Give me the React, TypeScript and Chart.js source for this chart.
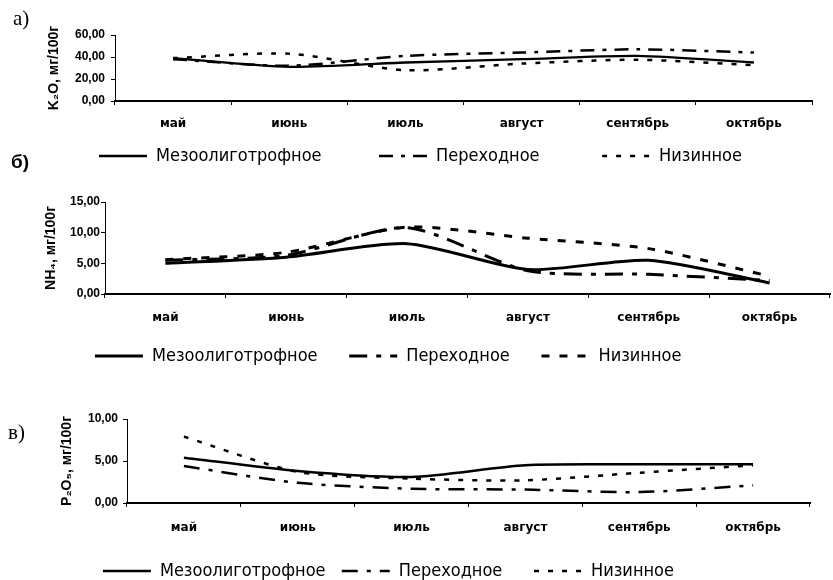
import React, { useEffect, useRef } from 'react';
import { Chart, registerables } from 'chart.js';

Chart.register(...registerables);

// ---------- DATA ----------
const months = ['май', 'июнь', 'июль', 'август', 'сентябрь', 'октябрь'];
const seriesNames = ['Мезоолиготрофное', 'Переходное', 'Низинное'];

const k2oMezo = [39, 31, 35, 38, 41, 35];
const k2oPerekh = [38, 32, 41, 44, 47, 44];
const k2oNiz = [39, 43, 28, 34, 37.5, 32.5];
const k2oTicks = [0, 20, 40, 60];

const nh4Mezo = [5.0, 6.0, 8.2, 4.0, 5.5, 1.8];
const nh4Perekh = [5.5, 6.3, 10.8, 3.8, 3.2, 2.2];
const nh4Niz = [5.6, 6.8, 10.9, 9.1, 7.4, 2.9];
const nh4Ticks = [0, 5, 10, 15];

const p2o5Mezo = [5.4, 3.8, 3.1, 4.5, 4.6, 4.6];
const p2o5Perekh = [4.4, 2.4, 1.7, 1.6, 1.3, 2.1];
const p2o5Niz = [7.9, 3.7, 2.9, 2.7, 3.6, 4.5];
const p2o5Ticks = [0, 5, 10];

// ---------- STYLE ----------
const NARROW = "'Liberation Sans Narrow', 'Arial Narrow', 'DejaVu Sans Condensed', 'Liberation Sans', sans-serif";
const SANS = "'Liberation Sans', Arial, sans-serif";
const WIDE = "'DejaVu Sans', sans-serif";

const fmt = (v: any) => Number(v).toFixed(2).replace('.', ',');

type Panel = {
  top: number;
  h: number;
  pad: { left: number; right: number; top: number; bottom: number };
  yWidth: number;
  xHeight: number;
  xPad: number;
  yPad: number;
  titlePad: number;
  title: string;
  ticks: number[];
  series: number[][];
  widths: number[];
  dashes: number[][];
  spaces: number[];
  legendFont: number;
};

const panels: Panel[] = [
  {
    top: 0, h: 167,
    pad: { left: 21, right: 21, top: 27, bottom: 0 },
    yWidth: 86, xHeight: 40, xPad: 12, yPad: 6, titlePad: 17,
    title: 'K₂O, мг/100г', ticks: k2oTicks,
    series: [k2oMezo, k2oPerekh, k2oNiz],
    widths: [2.3, 2.5, 2.5],
    dashes: [[], [14, 8, 4, 8], [5, 9]],
    spaces: [10, 11, 0], legendFont: 18,
  },
  {
    top: 178, h: 189,
    pad: { left: 0, right: 3, top: 16, bottom: 0 },
    yWidth: 97, xHeight: 47, xPad: 13, yPad: 1, titlePad: 35,
    title: 'NH₄, мг/100г', ticks: nh4Ticks,
    series: [nh4Mezo, nh4Perekh, nh4Niz],
    widths: [3, 3, 3],
    dashes: [[], [18, 9, 5, 9], [8, 10]],
    spaces: [5, 5, 12], legendFont: 18,
  },
  {
    top: 374, h: 208,
    pad: { left: 0, right: 23, top: 37, bottom: 0 },
    yWidth: 119, xHeight: 53, xPad: 14, yPad: 5, titlePad: 51,
    title: 'P₂O₅, мг/100г', ticks: p2o5Ticks,
    series: [p2o5Mezo, p2o5Perekh, p2o5Niz],
    widths: [2.5, 2.5, 2.5],
    dashes: [[], [16, 9, 4, 9], [5, 9]],
    spaces: [2, 5, 8], legendFont: 18,
  },
];

function LineChart({ p }: { p: Panel }) {
  const ref = useRef<HTMLCanvasElement | null>(null);
  useEffect(() => {
    if (!ref.current) return;
    const chart = new Chart(ref.current, {
      type: 'line',
      data: {
        labels: months,
        datasets: p.series.map((vals, i) => ({
          label: seriesNames[i],
          data: vals,
          borderColor: '#000',
          backgroundColor: '#000',
          borderWidth: p.widths[i],
          borderDash: p.dashes[i],
          borderCapStyle: 'butt',
          pointRadius: 0,
          pointHoverRadius: 0,
          tension: 0.25,
          fill: false,
        })),
      },
      options: {
        animation: false,
        responsive: false,
        devicePixelRatio: 1,
        events: [],
        layout: { padding: p.pad },
        plugins: {
          tooltip: { enabled: false },
          legend: {
            position: 'bottom',
            align: 'center',
            labels: {
              usePointStyle: true,
              pointStyleWidth: 48,
              padding: 6,
              color: '#000',
              font: { family: NARROW, size: p.legendFont },
              generateLabels: (c: any) =>
                c.data.datasets.map((ds: any, i: number) => ({
                  text: ds.label + ' '.repeat(p.spaces[i]),
                  fillStyle: 'rgba(0,0,0,0)',
                  strokeStyle: '#000',
                  lineWidth: ds.borderWidth,
                  lineDash: ds.borderDash,
                  lineCap: 'butt',
                  pointStyle: 'line',
                  hidden: false,
                  datasetIndex: i,
                  fontColor: '#000',
                })),
            },
          },
        },
        scales: {
          x: {
            offset: true,
            grid: { display: true, drawOnChartArea: false, drawTicks: true, tickLength: 4, color: '#000', offset: true },
            border: { display: true, color: '#000', width: 2 },
            ticks: { color: '#000', font: { family: WIDE, size: 12, weight: 'bold' }, padding: p.xPad, maxRotation: 0, autoSkip: false },
            afterFit: (s: any) => { s.height = p.xHeight; },
          },
          y: {
            min: p.ticks[0],
            max: p.ticks[p.ticks.length - 1],
            afterBuildTicks: (s: any) => { s.ticks = p.ticks.map((v) => ({ value: v })); },
            grid: { display: true, drawOnChartArea: false, drawTicks: true, tickLength: 4, color: '#000' },
            border: { display: true, color: '#000', width: 1 },
            ticks: { color: '#000', font: { family: SANS, size: 12, weight: 'bold' }, padding: p.yPad, callback: fmt },
            title: { display: true, text: p.title, color: '#000', font: { family: SANS, size: 14, weight: 'bold' }, padding: { top: p.titlePad, bottom: 0 } },
            afterFit: (s: any) => { s.width = p.yWidth; },
          },
        },
      } as any,
    });
    return () => chart.destroy();
  }, [p]);
  return (
    <canvas
      ref={ref}
      width={825}
      height={p.h}
      style={{ position: 'absolute', left: 0, top: p.top, display: 'block' }}
    />
  );
}

export default function App() {
  return (
    <div style={{ position: 'fixed', left: 8, top: 8, width: 825, height: 572, overflow: 'hidden', background: '#fff' }}>
      {panels.map((p, i) => (
        <LineChart key={i} p={p} />
      ))}
      <div style={{ position: 'absolute', left: 5, top: -2, fontFamily: "'Liberation Serif', serif", fontSize: 21, lineHeight: '24px' }}>а)</div>
      <div style={{ position: 'absolute', left: 3, top: 143, fontFamily: SANS, fontWeight: 'bold', fontSize: 19, lineHeight: '22px' }}>б)</div>
      <div style={{ position: 'absolute', left: 0, top: 412, fontFamily: "'Liberation Serif', serif", fontSize: 21, lineHeight: '24px' }}>в)</div>
    </div>
  );
}
